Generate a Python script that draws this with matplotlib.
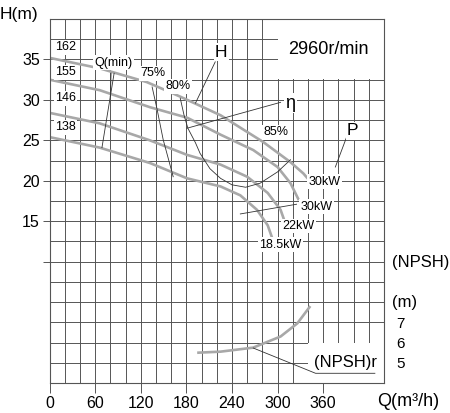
import matplotlib
matplotlib.use("Agg")
import matplotlib.pyplot as plt
from matplotlib.patches import Rectangle
import numpy as np

plt.rcParams['font.family'] = ['Liberation Sans', 'DejaVu Sans']
NARROW = ['Liberation Sans Narrow', 'Liberation Sans', 'DejaVu Sans']

# head curves (Q m3/h, H m) for each impeller diameter
q162 = [0, 66, 128, 172, 225, 281, 317, 334, 345]
h162 = [35.2, 33.9, 32.2, 30.4, 28.1, 24.8, 22.3, 20.9, 19.7]
q155 = [0, 66, 132, 181, 225, 268, 300, 317, 328]
h155 = [32.5, 31.2, 29.1, 27.8, 25.7, 23.8, 21.7, 19.7, 17.6]
q146 = [0, 66, 132, 181, 225, 260, 287, 304, 310]
h146 = [28.4, 27.1, 25.0, 23.2, 22.0, 20.5, 18.5, 16.4, 14.8]
q138 = [0, 66, 132, 181, 225, 251, 273, 287, 293]
h138 = [25.4, 24.1, 22.2, 20.3, 19.3, 18.2, 16.4, 14.5, 12.9]
diam_labels = ['162', '155', '146', '138']
power_labels = ['30kW', '30kW', '22kW', '18.5kW']

# efficiency iso-lines
q75 = [135, 141.6, 149.5, 162.7]
h75 = [31.6, 28.8, 25.1, 20.5]
q80 = [172, 177, 182, 192, 198, 211, 225, 240, 258, 277, 300, 317]
h80 = [30.2, 28.1, 26.5, 24.7, 23.4, 21.5, 20.3, 19.5, 19.2, 19.7, 21.1, 22.6]

# NPSHr curve
q_npsh = [196, 225, 268, 304, 326, 342]
npsh = [5.5, 5.55, 5.75, 6.3, 6.95, 7.75]

xticks = [0, 60, 120, 180, 240, 300, 360]
yticks = [15, 20, 25, 30, 35]

fig = plt.figure(figsize=(4.5, 4.13), dpi=100)
ax = fig.add_axes([49.5/450, 1-383/413, (384-49.5)/450, (383-19)/413])
ax.set_xlim(0, 440)
ax.set_ylim(-5, 40)

gc = '#555555'
for x in np.arange(20, 440, 20):
    ax.axvline(x, color=gc, lw=0.7, zorder=1)
for y in np.arange(-2.5, 40, 2.5):
    ax.axhline(y, color=gc, lw=0.7, zorder=1)

# blank boxes
ax.add_patch(Rectangle((300.6, 32.6), 140, 8, fc='white', ec='none', zorder=2))
ax.add_patch(Rectangle((340.6, -5.5), 100, 5.4, fc='white', ec='none', zorder=2))

curve_c = '#a8a8a8'
for q, h in [(q162, h162), (q155, h155), (q146, h146), (q138, h138)]:
    ax.plot(q, h, color=curve_c, lw=1.9, zorder=3, solid_capstyle='butt')

thin = dict(color='#333333', lw=0.6, zorder=4)
ax.plot(q75, h75, **thin)
ax.plot(q80, h80, **thin)
# leader lines
ax.plot([85, 69], [33.3, 24.1], **thin)
ax.plot([81, 80], [33.3, 30.4], **thin)
ax.plot([192, 218], [29.6, 34.7], **thin)
ax.plot([181, 304], [26.5, 29.7], **thin)
ax.plot([376, 392], [21.7, 25.7], **thin)
ax.plot([251, 325], [15.9, 17.1], **thin)

box = dict(fc='white', ec='none', pad=1.0)
for lab, yy in zip(diam_labels, [36.5, 33.4, 30.2, 26.6]):
    ax.text(21, yy, lab, family=NARROW, fontsize=9, ha='center', va='center',
            bbox=box, zorder=5)
for lab, (xx, yy) in zip(power_labels, [(362, 19.9), (351, 16.8), (327, 14.4), (304, 12.1)]):
    ax.text(xx, yy, lab, family=NARROW, fontsize=9, ha='center', va='center',
            bbox=box, zorder=5)
ax.text(84, 34.6, 'Q(min)', family=NARROW, fontsize=9, ha='center', va='center', bbox=box, zorder=5)
ax.text(136, 33.3, '75%', family=NARROW, fontsize=9, ha='center', va='center', bbox=box, zorder=5)
ax.text(169, 31.7, '80%', family=NARROW, fontsize=9, ha='center', va='center', bbox=box, zorder=5)
ax.text(298, 26.0, '85%', family=NARROW, fontsize=9, ha='center', va='center', bbox=box, zorder=5)

ax.text(226, 35.9, 'H', fontsize=12.5, ha='center', va='center', bbox=box, zorder=5)
ax.text(317, 29.6, 'η', fontsize=13, ha='center', va='center', bbox=box, zorder=5)
ax.text(399, 26.2, 'P', fontsize=12.5, ha='center', va='center', bbox=box, zorder=5)
ax.text(367, 36.2, '2960r/min', fontsize=13, ha='center', va='center', zorder=5)

# NPSH on its own scale
ax2 = ax.twinx()
ax2.set_ylim(4, 22)
ax2.plot(q_npsh, npsh, color=curve_c, lw=1.9, zorder=3)
ax2.plot([268, 350, 428], [5.73, 4.48, 4.48], **thin)
ax2.text(389, 5.0, '(NPSH)r', fontsize=12, ha='center', va='center', zorder=5)
ax2.set_yticks([5, 6, 7])
ax2.tick_params(axis='y', length=0, pad=9, labelsize=11)
for s in ax2.spines.values():
    s.set_visible(False)

ax.set_xticks(xticks)
ax.set_yticks(yticks + [10])
ax.set_yticklabels([str(v) for v in yticks] + [''])
ax.tick_params(axis='x', length=7, width=0.7, color=gc, labelsize=11.5, pad=2)
ax.tick_params(axis='y', length=5, width=0.7, color=gc, labelsize=11.5, pad=2)
for s in ax.spines.values():
    s.set_color(gc)
    s.set_linewidth(0.8)
    s.set_zorder(6)

fig.text(0.0, 1-15/413, 'H(m)', fontsize=12.5, va='center', ha='left')
fig.text(377/450, 1-402/413, 'Q(m³/h)', fontsize=13, va='center', ha='left')
fig.text(392/450, 1-263/413, '(NPSH)r', fontsize=12, va='center', ha='left')
fig.text(392/450, 1-302/413, '(m)', fontsize=12, va='center', ha='left')

fig.savefig('out.png', dpi=100)
